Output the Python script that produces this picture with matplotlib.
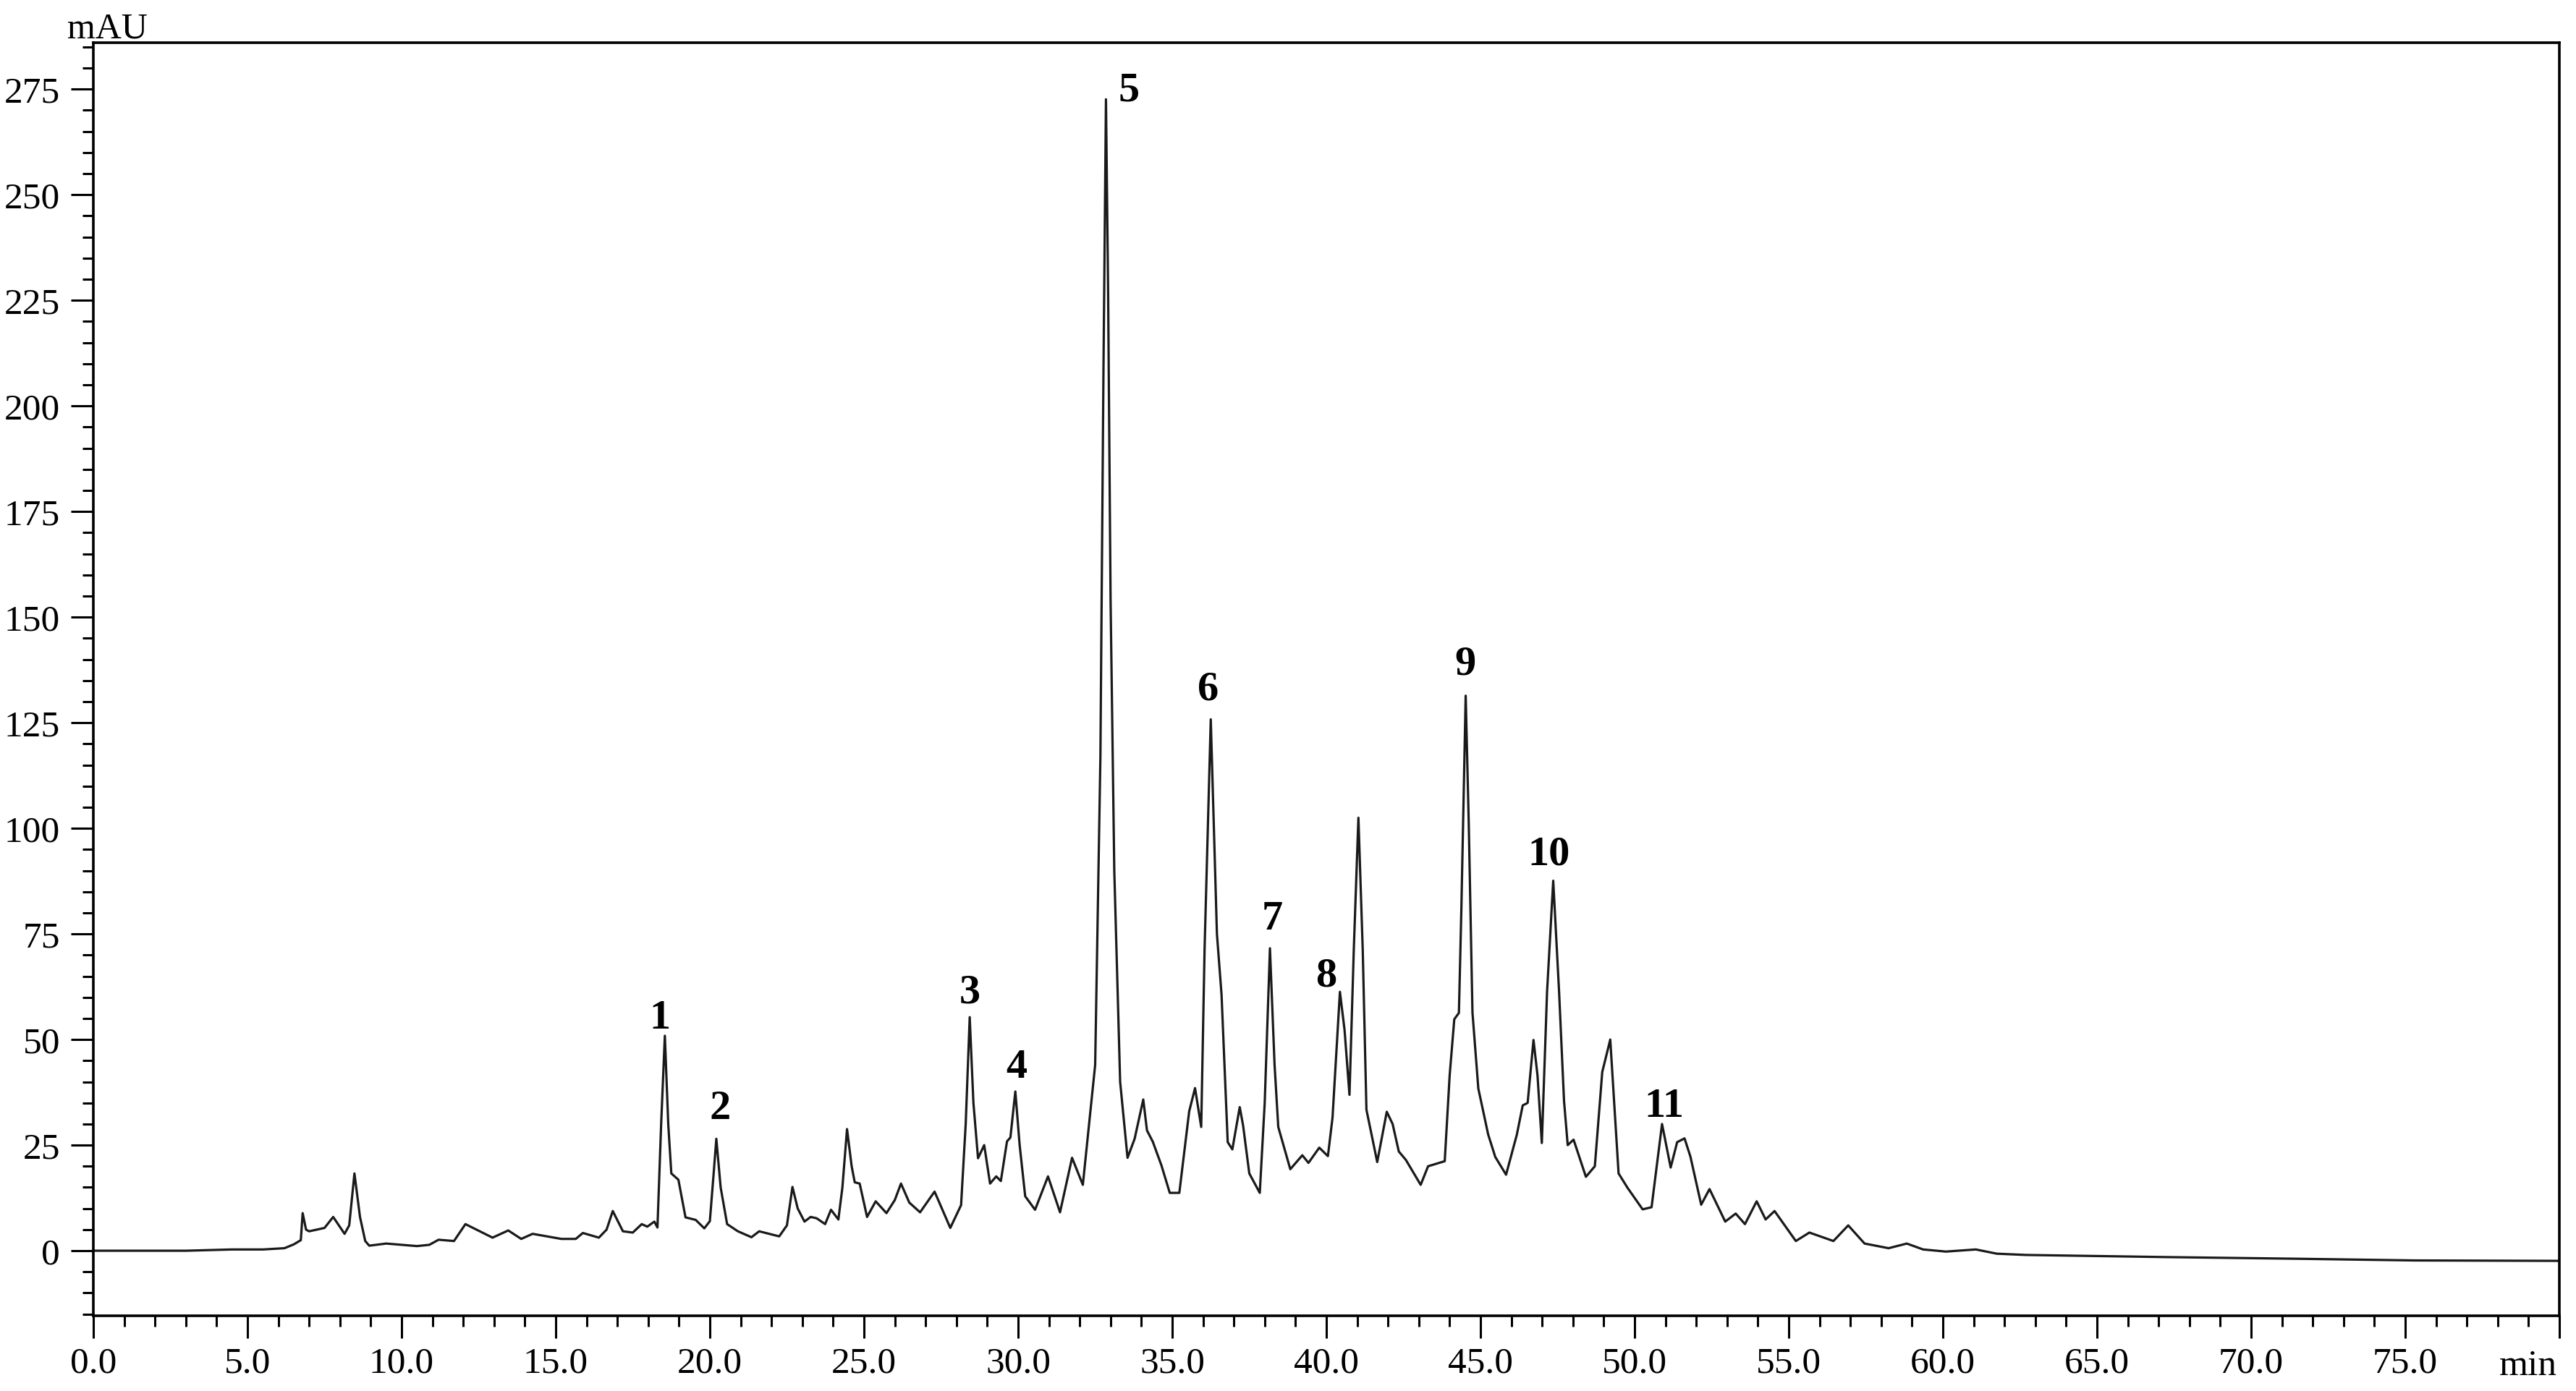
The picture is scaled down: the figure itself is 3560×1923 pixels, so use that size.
import matplotlib
matplotlib.use("Agg")
import matplotlib.pyplot as plt
from matplotlib.ticker import MultipleLocator, FixedLocator

plt.rcParams['font.family'] = ['Liberation Serif', 'DejaVu Serif']

# Retention time (min) and absorbance (mAU)
time_min = [
    0.0, 3.0, 4.5, 5.5, 6.2, 6.5, 6.73, 6.79, 6.9, 7.0, 7.5, 7.78, 8.15, 8.3, 8.47, 8.65,
    8.82, 8.95, 9.5, 10.5, 10.9, 11.2, 11.7, 12.07, 12.4, 12.95, 13.46, 13.88, 14.25,
    15.18, 15.65, 15.88, 16.4, 16.65, 16.85, 17.18, 17.5, 17.79, 17.97, 18.2, 18.3,
    18.42, 18.54, 18.65, 18.75, 18.98, 19.21, 19.54, 19.82, 20.0, 20.12, 20.21, 20.35,
    20.56, 20.91, 21.35, 21.6, 22.25, 22.5, 22.68, 22.85, 23.07, 23.27, 23.46, 23.74,
    23.93, 24.17, 24.3, 24.45, 24.6, 24.7, 24.86, 25.1, 25.38, 25.73, 26.0, 26.2, 26.47,
    26.82, 27.29, 27.8, 28.15, 28.3, 28.43, 28.55, 28.7, 28.9, 29.09, 29.29, 29.44,
    29.64, 29.75, 29.91, 30.05, 30.23, 30.55, 30.97, 31.36, 31.75, 32.1, 32.5, 32.67,
    32.77, 32.85, 32.92, 33.0, 33.12, 33.31, 33.55, 33.78, 34.06, 34.18, 34.37, 34.65,
    34.92, 35.23, 35.55, 35.74, 35.94, 36.05, 36.25, 36.45, 36.6, 36.8, 36.95, 37.19,
    37.3, 37.5, 37.84, 38.0, 38.17, 38.32, 38.44, 38.83, 39.22, 39.42, 39.77, 40.05,
    40.2, 40.44, 40.59, 40.75, 40.89, 41.04, 41.18, 41.3, 41.65, 41.96, 42.15, 42.35,
    42.58, 43.06, 43.3, 43.84, 44.0, 44.15, 44.3, 44.38, 44.52, 44.62, 44.74, 44.93,
    45.25, 45.48, 45.83, 46.18, 46.37, 46.53, 46.72, 46.85, 46.99, 47.16, 47.36, 47.55,
    47.71, 47.83, 48.02, 48.42, 48.71, 48.95, 49.21, 49.48, 49.77, 50.26, 50.55, 50.89,
    51.17, 51.38, 51.62, 51.81, 52.16, 52.43, 52.94, 53.28, 53.58, 53.96, 54.25, 54.54,
    55.23, 55.67, 56.45, 56.93, 57.46, 58.24, 58.83, 59.36, 60.1, 61.07, 61.75, 62.7,
    67.2, 71.5, 75.3, 80.0,
]
absorbance_mau = [
    0.0, 0.0, 0.3, 0.3, 0.6, 1.5, 2.5, 8.9, 5.0, 4.6, 5.4, 8.0, 4.0, 6.0, 18.3, 8.0,
    2.3, 1.2, 1.7, 1.1, 1.4, 2.6, 2.3, 6.3, 5.1, 3.1, 4.8, 2.8, 4.0,
    2.8, 2.8, 4.2, 3.1, 5.0, 9.4, 4.6, 4.3, 6.3, 5.7, 6.9, 5.5,
    30.0, 50.9, 30.0, 18.3, 16.8, 7.9, 7.3, 5.3, 7.0, 18.0, 26.5, 15.0,
    6.3, 4.6, 3.2, 4.6, 3.4, 6.0, 15.1, 10.0, 6.9, 8.0, 7.7, 6.3,
    9.7, 7.4, 15.0, 28.8, 20.0, 16.2, 15.9, 8.0, 11.7, 8.9, 12.0, 15.9, 11.4,
    9.1, 14.0, 5.4, 10.8, 30.0, 55.3, 35.0, 21.9, 25.0, 15.9, 17.6, 16.5,
    25.9, 26.8, 37.7, 25.0, 12.9, 9.7, 17.6, 9.1, 22.0, 15.6, 44.0, 117.0,
    209.0, 272.6, 227.0, 154.0, 90.0, 40.0, 22.0, 26.5, 35.8, 28.5, 25.8, 20.2,
    13.7, 13.7, 33.0, 38.5, 29.3, 71.6, 125.8, 75.0, 60.6, 25.7, 24.0, 34.0,
    29.6, 18.3, 13.7, 35.0, 71.6, 44.0, 29.3, 19.3, 22.6, 20.8, 24.4, 22.4,
    31.5, 61.3, 52.3, 36.9, 71.3, 102.5, 71.3, 33.4, 21.0, 32.9, 30.0, 23.5,
    21.5, 15.6, 20.0, 21.2, 41.5, 54.8, 56.3, 81.0, 131.4, 101.0, 56.4, 38.4,
    27.5, 22.2, 18.0, 27.5, 34.4, 35.0, 49.9, 41.5, 25.5, 61.3, 87.6, 61.3,
    35.5, 25.0, 26.3, 17.5, 20.0, 42.3, 50.0, 18.3, 14.9, 9.8, 10.3, 30.0,
    19.7, 25.7, 26.6, 22.3, 10.9, 14.6, 6.9, 8.8, 6.3, 11.7, 7.4, 9.4,
    2.3, 4.3, 2.3, 6.0, 1.7, 0.6, 1.7, 0.3, -0.2, 0.3, -0.7, -1.0,
    -1.5, -1.9, -2.3, -2.4,
]

# Peak labels and their positions
peak_labels = ["1", "2", "3", "4", "5", "6", "7", "8", "9", "10", "11"]
label_time = [18.39, 20.33, 28.43, 29.95, 33.59, 36.17, 38.24, 40.0, 44.5, 47.22, 50.96]
label_mau = [55.1, 33.8, 61.2, 43.5, 274.7, 133.0, 78.7, 65.1, 138.9, 93.9, 34.3]

x_major = [0, 5, 10, 15, 20, 25, 30, 35, 40, 45, 50, 55, 60, 65, 70, 75, 80]
x_labels = ["0.0", "5.0", "10.0", "15.0", "20.0", "25.0", "30.0", "35.0", "40.0",
            "45.0", "50.0", "55.0", "60.0", "65.0", "70.0", "75.0", ""]
y_major = [0, 25, 50, 75, 100, 125, 150, 175, 200, 225, 250, 275]

fig = plt.figure(figsize=(17.8, 9.62), dpi=200)
ax = fig.add_axes([0.03624, 0.05405, 0.99354 - 0.03624, 0.96881 - 0.05405])

ax.plot(time_min, absorbance_mau, color="#1a1a1a", lw=1.15, solid_joinstyle="round")

for lab, tx, ty in zip(peak_labels, label_time, label_mau):
    ax.text(tx, ty, lab, ha="center", va="center", fontsize=21, fontweight="bold",
            color="black")

ax.set_xlim(0, 80)
ax.set_ylim(-15.4, 286)

ax.xaxis.set_major_locator(FixedLocator(x_major))
ax.set_xticklabels(x_labels)
ax.xaxis.set_minor_locator(MultipleLocator(1))
ax.yaxis.set_major_locator(FixedLocator(y_major))
ax.set_yticklabels([str(v) for v in y_major])
ax.yaxis.set_minor_locator(MultipleLocator(5))

ax.tick_params(axis="both", which="major", direction="out", length=11, width=1.1,
               labelsize=18.5, color="black")
ax.tick_params(axis="both", which="minor", direction="out", length=5.5, width=1.1,
               color="black")
ax.tick_params(axis="x", which="major", pad=4)
ax.tick_params(axis="y", which="major", pad=5.5)

for sp in ax.spines.values():
    sp.set_linewidth(1.3)
    sp.set_color("black")

fig.text(0.0416, 0.9725, "mAU", ha="center", va="baseline", fontsize=18)
fig.text(0.9927, 0.012, "min", ha="right", va="baseline", fontsize=18.5)

fig.savefig("out.png", dpi=200, facecolor="white")
